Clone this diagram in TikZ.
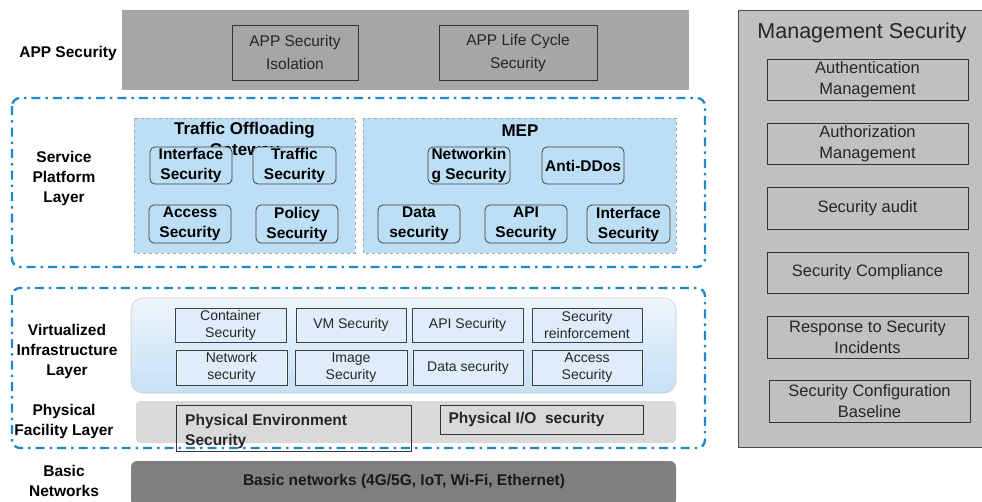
\documentclass[tikz,border=0pt]{standalone}
\usepackage{fontspec}
\setmainfont{Liberation Sans}
\definecolor{appgray}{HTML}{A6A6A6}
\definecolor{mgray}{HTML}{C0C0C0}
\definecolor{dashblue}{HTML}{1E88C8}
\definecolor{paleblue}{HTML}{BDDFF5}
\definecolor{vtop}{HTML}{EEF5FC}
\definecolor{vbot}{HTML}{C6E0F4}
\definecolor{physgray}{HTML}{D9D9D9}
\definecolor{basegray}{HTML}{7F7F7F}
\definecolor{txt}{HTML}{262626}
\tikzset{
  x=1pt,y=-1pt,
  lbl/.style={font=\bfseries\fontsize{15.5}{20}\selectfont, align=center, text=black},
  graybox/.style={draw=black!80, line width=0.7pt, align=center, text=txt, font=\fontsize{15.5}{23}\selectfont, inner sep=0pt},
  rbox/.style={draw=black!75, line width=0.8pt, rounded corners=5pt, fill=paleblue, align=center, font=\bfseries\fontsize{15.5}{20}\selectfont, inner sep=0pt},
  vbox/.style={draw=black!75, line width=0.7pt, fill=vtop!60!vbot, align=center, font=\fontsize{14}{17}\selectfont, text=txt, inner sep=0pt},
  mbox/.style={draw=black!80, line width=0.7pt, align=center, text=txt, font=\fontsize{16.5}{21}\selectfont, inner sep=0pt},
  layerdash/.style={draw=dashblue, line width=2.3pt, rounded corners=8pt, dash pattern=on 9pt off 5pt on 2.5pt off 5pt},
  panel/.style={draw=gray!70, dashed, line width=0.6pt, fill=paleblue},
}
\begin{document}
\begin{tikzpicture}
\useasboundingbox (0,0) rectangle (982,501);
\fill[white] (0,0) rectangle (982,501);

% APP security
\node[lbl] (applbl) at (68,53) {APP Security};
\fill[appgray] (122,10) rectangle (689,90);
\node[graybox, minimum width=126pt, minimum height=55pt] (appiso) at (295,52.5) {APP Security\\Isolation};
\node[graybox, minimum width=158pt, minimum height=55pt] (applife) at (518,52.5) {APP Life Cycle\\Security};

% Management security
\fill[mgray] (738,10) rectangle (990,447);
\draw[black!70, line width=0.8pt] (738,447) -- (738,10) -- (990,10);
\draw[black!70, line width=0.8pt] (738,447) -- (990,447);
\node[text=txt, font=\fontsize{21.5}{24}\selectfont] (mtitle) at (862,33) {Management Security};
\node[mbox, minimum width=201pt, minimum height=41pt] (m1) at (867.5,79.5) {Authentication\\Management};
\node[mbox, minimum width=201pt, minimum height=41pt] (m2) at (867.5,143.5) {Authorization\\Management};
\node[mbox, minimum width=201pt, minimum height=42pt] (m3) at (867.5,208) {Security audit};
\node[mbox, minimum width=201pt, minimum height=41pt] (m4) at (867.5,272.5) {Security Compliance};
\node[mbox, minimum width=201pt, minimum height=42pt] (m5) at (867.5,337) {Response to Security\\Incidents};
\node[mbox, minimum width=201pt, minimum height=42pt] (m6) at (869.5,401) {Security Configuration\\Baseline};

% Service platform layer
\draw[layerdash] (12,98) rectangle (705,267);
\node[lbl] (spl) at (64,178) {Service\\Platform\\Layer};
\draw[panel] (134,118) rectangle (355,253);
\node[font=\bfseries\fontsize{17}{21}\selectfont, align=center, anchor=north, inner sep=0pt] (tog) at (244.5,122) {Traffic Offloading\\Gateway};
\node[rbox, minimum width=82pt, minimum height=37pt] (t1) at (191,165.5) {Interface\\Security};
\node[rbox, minimum width=83pt, minimum height=37pt] (t2) at (294.5,165.5) {Traffic\\Security};
\node[rbox, minimum width=82pt, minimum height=38pt] (t3) at (190,224) {Access\\Security};
\node[rbox, minimum width=82pt, minimum height=38pt] (t4) at (297,224) {Policy\\Security};

\draw[panel] (363,118) rectangle (676,253);
\node[font=\bfseries\fontsize{17}{21}\selectfont] (mep) at (520,131) {MEP};
\node[rbox, minimum width=82pt, minimum height=37pt] (e1) at (469,165.5) {Networkin\\g Security};
\node[rbox, minimum width=82pt, minimum height=37pt] (e2) at (583,165.5) {Anti-DDos};
\node[rbox, minimum width=82pt, minimum height=38pt] (e3) at (419,224) {Data\\security};
\node[rbox, minimum width=82pt, minimum height=38pt] (e4) at (526,224) {API\\Security};
\node[rbox, minimum width=83pt, minimum height=38pt] (e5) at (628.5,224) {Interface\\Security};

% Virtualized infrastructure + physical
\draw[layerdash] (12,288) rectangle (705,448);
\node[lbl] (vil) at (67,351) {Virtualized\\Infrastructure\\Layer};
\node[lbl] (pfl) at (64,421) {Physical\\Facility Layer};
\shade[top color=vtop, bottom color=vbot, rounded corners=12pt] (131,298) rectangle (676,393);
\draw[black!20, line width=0.6pt, rounded corners=12pt] (131,298) rectangle (676,393);
\node[vbox, minimum width=111pt, minimum height=34pt] (v1) at (230.5,325) {Container\\Security};
\node[vbox, minimum width=110pt, minimum height=34pt] (v2) at (351,325) {VM Security};
\node[vbox, minimum width=111pt, minimum height=34pt] (v3) at (467.5,325) {API Security};
\node[vbox, minimum width=110pt, minimum height=34pt] (v4) at (587,325) {Security\\reinforcement};
\node[vbox, minimum width=111pt, minimum height=35pt] (v5) at (231.5,367.5) {Network\\security};
\node[vbox, minimum width=112pt, minimum height=35pt] (v6) at (351,367.5) {Image\\Security};
\node[vbox, minimum width=110pt, minimum height=35pt] (v7) at (468,367.5) {Data security};
\node[vbox, minimum width=110pt, minimum height=35pt] (v8) at (587,367.5) {Access\\Security};

\fill[physgray, rounded corners=4pt] (136,401) rectangle (676,443);
\node[draw=black!80, line width=0.7pt, minimum width=235pt, minimum height=46pt, inner sep=0pt] (p1) at (293.5,428) {};
\node[font=\bfseries\fontsize{15.5}{20}\selectfont, align=left, anchor=north west, text=txt, inner sep=0pt] (p1t) at (185,414) {Physical Environment\\Security};
\node[draw=black!80, line width=0.7pt, minimum width=203pt, minimum height=29pt, inner sep=0pt, font=\bfseries\fontsize{15.5}{18}\selectfont, text=txt] (p2) at (541.5,419.5) {\raisebox{-2pt}{Physical I/O~~security}\hspace*{30pt}};

% Basic networks
\node[lbl] (bnl) at (64,481) {Basic\\Networks};
\fill[basegray, rounded corners=6pt] (131,461) rectangle (676,506);
\node[font=\bfseries\fontsize{15.5}{18}\selectfont, text=black!90] (bn) at (404,481) {Basic networks (4G/5G, IoT, Wi-Fi, Ethernet)};
\end{tikzpicture}
\end{document}
